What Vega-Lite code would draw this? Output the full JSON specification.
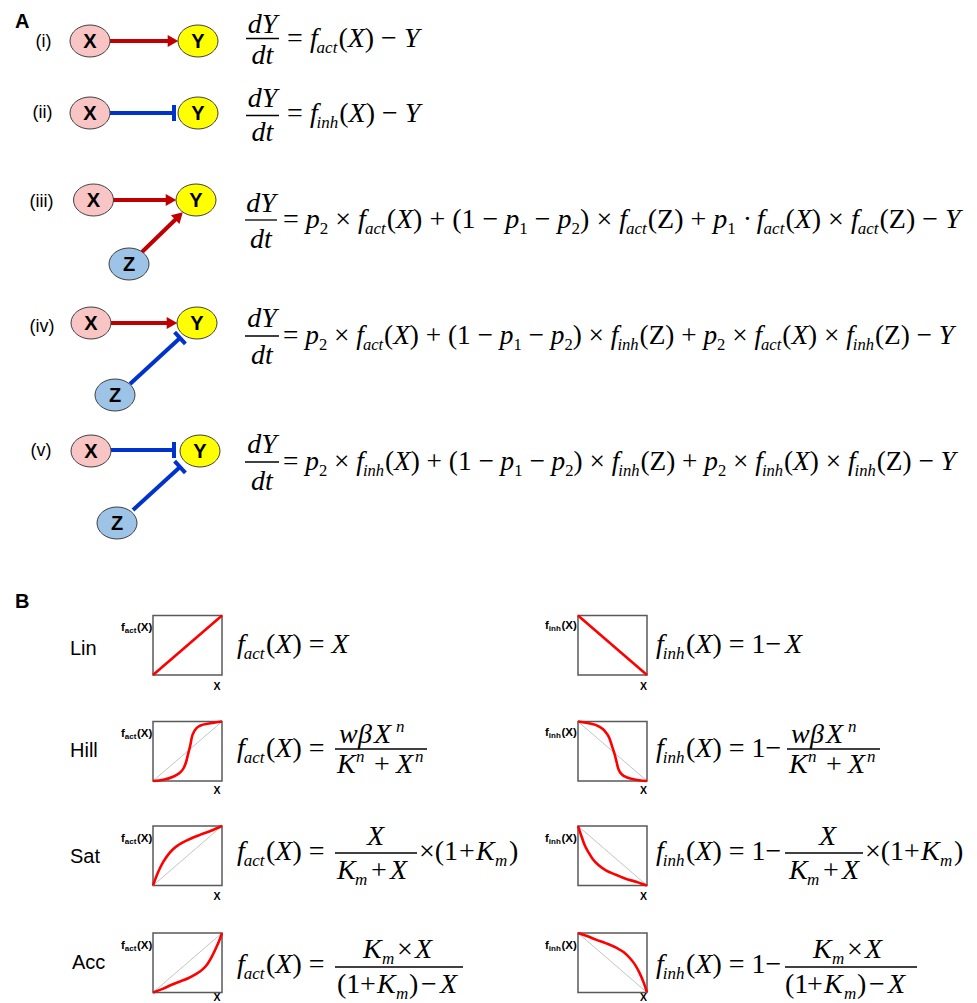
{
"$schema":"https://vega.github.io/schema/vega-lite/v6.json",
"width":977,"height":1003,"padding":0,"autosize":{"type":"none"},
"background":"white",
"config":{"view":{"stroke":null}},
"datasets":{
"nodes":[{"x":90,"y":41,"n":"X"},{"x":198,"y":41,"n":"Y"},{"x":90,"y":113,"n":"X"},{"x":198,"y":113,"n":"Y"},{"x":93.5,"y":200,"n":"X"},{"x":196,"y":200,"n":"Y"},{"x":129,"y":264,"n":"Z"},{"x":91,"y":323,"n":"X"},{"x":197,"y":323,"n":"Y"},{"x":115,"y":395,"n":"Z"},{"x":91,"y":451,"n":"X"},{"x":200,"y":451,"n":"Y"},{"x":117,"y":523,"n":"Z"}],
"edges":[
{"x":110,"y":41,"x2":168,"y2":41,"k":"act"},
{"x":110,"y":113,"x2":174,"y2":113,"k":"inh"},{"x":174,"y":105,"x2":174,"y2":121,"k":"inh"},
{"x":113,"y":200,"x2":166,"y2":200,"k":"act"},{"x":142,"y":252,"x2":176,"y2":219,"k":"act"},
{"x":111,"y":323,"x2":167,"y2":323,"k":"act"},{"x":130,"y":384,"x2":180,"y2":338,"k":"inh"},{"x":174.6,"y":332.1,"x2":185.4,"y2":343.9,"k":"inh"},
{"x":111,"y":450,"x2":174,"y2":450,"k":"inh"},{"x":174,"y":442,"x2":174,"y2":458,"k":"inh"},{"x":133,"y":510,"x2":180,"y2":467,"k":"inh"},{"x":174.6,"y":461.1,"x2":185.4,"y2":472.9,"k":"inh"}],
"heads":[{"x":173,"y":41,"a":90},{"x":171,"y":200,"a":90},{"x":179,"y":216,"a":46},{"x":172,"y":323,"a":90}],
"boxes":[{"x":153,"x2":222,"y":615.5,"y2":675},{"x":578,"x2":647,"y":615.5,"y2":675},{"x":153,"x2":222,"y":721.5,"y2":781},{"x":578,"x2":647,"y":721.5,"y2":781},{"x":153,"x2":222,"y":826,"y2":885.5},{"x":578,"x2":647,"y":826,"y2":885.5},{"x":153,"x2":222,"y":933,"y2":992.5},{"x":578,"x2":647,"y":933,"y2":992.5}],
"diag":[{"x":153,"y":781,"x2":222,"y2":721.5},{"x":578,"y":721.5,"x2":647,"y2":781},{"x":153,"y":885.5,"x2":222,"y2":826},{"x":578,"y":826,"x2":647,"y2":885.5},{"x":153,"y":992.5,"x2":222,"y2":933},{"x":578,"y":933,"x2":647,"y2":992.5}],
"curves":[
{"c":"L1","x":153,"y":675},{"c":"L1","x":222,"y":615.5},
{"c":"L2","x":578,"y":615.5},{"c":"L2","x":647,"y":675},
{"c":"H1","x":153,"y":781},{"c":"H1","x":163.4,"y":779.8},{"c":"H1","x":173,"y":776.8},{"c":"H1","x":179.2,"y":773.3},{"c":"H1","x":183.4,"y":768.5},{"c":"H1","x":186.1,"y":762},{"c":"H1","x":188.2,"y":753.6},{"c":"H1","x":190.3,"y":745.3},{"c":"H1","x":191.6,"y":738.2},{"c":"H1","x":195.1,"y":729.8},{"c":"H1","x":199.9,"y":725.7},{"c":"H1","x":210.3,"y":723.3},{"c":"H1","x":222,"y":721.5},
{"c":"H2","x":578,"y":721.5},{"c":"H2","x":589,"y":723.3},{"c":"H2","x":598.7,"y":726.3},{"c":"H2","x":604.2,"y":730.4},{"c":"H2","x":609.1,"y":737.6},{"c":"H2","x":611.8,"y":745.3},{"c":"H2","x":614.6,"y":754.2},{"c":"H2","x":616.6,"y":762},{"c":"H2","x":618,"y":767.9},{"c":"H2","x":620.8,"y":773.3},{"c":"H2","x":624.2,"y":776.2},{"c":"H2","x":633.2,"y":779.2},{"c":"H2","x":647,"y":781},
{"c":"S1","x":153,"y":885.5},{"c":"S1","x":156.5,"y":876},{"c":"S1","x":159.9,"y":868.3},{"c":"S1","x":163.4,"y":861.7},{"c":"S1","x":168.2,"y":854.6},{"c":"S1","x":173,"y":849.2},{"c":"S1","x":178.5,"y":845},{"c":"S1","x":183.4,"y":842.1},{"c":"S1","x":191,"y":838.5},{"c":"S1","x":199.9,"y":834.9},{"c":"S1","x":211,"y":830.8},{"c":"S1","x":222,"y":826},
{"c":"S2","x":578,"y":826},{"c":"S2","x":580.8,"y":834.3},{"c":"S2","x":584.2,"y":843.9},{"c":"S2","x":588.4,"y":852.2},{"c":"S2","x":592.5,"y":858.7},{"c":"S2","x":598.7,"y":865.3},{"c":"S2","x":606.3,"y":870.6},{"c":"S2","x":616,"y":874.8},{"c":"S2","x":626.3,"y":879},{"c":"S2","x":636.7,"y":881.9},{"c":"S2","x":647,"y":885.5},
{"c":"A1","x":153,"y":992.5},{"c":"A1","x":162.7,"y":988.9},{"c":"A1","x":171.6,"y":984.8},{"c":"A1","x":180.6,"y":981.2},{"c":"A1","x":188.2,"y":978.2},{"c":"A1","x":195.8,"y":974.1},{"c":"A1","x":202,"y":969.9},{"c":"A1","x":207.5,"y":963.9},{"c":"A1","x":211.7,"y":956.8},{"c":"A1","x":215.8,"y":948.5},{"c":"A1","x":219.2,"y":940.8},{"c":"A1","x":222,"y":933},
{"c":"A2","x":578,"y":933},{"c":"A2","x":587,"y":936},{"c":"A2","x":595.9,"y":939.6},{"c":"A2","x":605.6,"y":943.1},{"c":"A2","x":616.6,"y":947.9},{"c":"A2","x":623.5,"y":952},{"c":"A2","x":629.8,"y":958},{"c":"A2","x":635.3,"y":965.1},{"c":"A2","x":640.1,"y":974.1},{"c":"A2","x":643.6,"y":982.4},{"c":"A2","x":647,"y":992.5}],
"fbars":[{"x":246,"x2":279,"y":38.5,"y2":38.5},{"x":246,"x2":279,"y":115.5,"y2":115.5},{"x":245,"x2":277,"y":220,"y2":220},{"x":245,"x2":279,"y":336,"y2":336},{"x":245,"x2":279,"y":462,"y2":462},{"x":335,"x2":427,"y":749,"y2":749},{"x":787,"x2":880,"y":749,"y2":749},{"x":335,"x2":417,"y":853,"y2":853},{"x":785,"x2":863,"y":853,"y2":853},{"x":335,"x2":463,"y":967,"y2":967},{"x":785,"x2":917,"y":967,"y2":967}],
"eq":[
{"x":262.5,"y":33,"t":"dY","s":"ic"},{"x":262.5,"y":64,"t":"dt","s":"ic"},
{"x":287,"y":47,"t":"=","s":"u"},{"x":310,"y":47,"t":"f","s":"i"},{"x":316.6,"y":53,"t":"act","s":"sb"},{"x":338.4,"y":47,"t":"(","s":"u"},{"x":347.7,"y":47,"t":"X","s":"i"},{"x":364.8,"y":47,"t":")\u00a0\u2212","s":"u"},{"x":403.9,"y":47,"t":"Y","s":"i"},
{"x":262.5,"y":107,"t":"dY","s":"ic"},{"x":262.5,"y":141,"t":"dt","s":"ic"},
{"x":287,"y":122,"t":"=","s":"u"},{"x":310,"y":122,"t":"f","s":"i"},{"x":316.6,"y":128,"t":"inh","s":"sb"},{"x":339.3,"y":122,"t":"(","s":"u"},{"x":348.6,"y":122,"t":"X","s":"i"},{"x":365.7,"y":122,"t":")\u00a0\u2212","s":"u"},{"x":404.8,"y":122,"t":"Y","s":"i"},
{"x":261,"y":212,"t":"dY","s":"ic"},{"x":261,"y":248,"t":"dt","s":"ic"},
{"x":283,"y":228,"t":"=","s":"u"},{"x":305.8,"y":228,"t":"p","s":"i"},{"x":319.8,"y":234,"t":"2","s":"nm"},{"x":335.3,"y":228,"t":"\u00d7","s":"u"},{"x":358.1,"y":228,"t":"f","s":"i"},{"x":364.9,"y":234,"t":"act","s":"sb"},{"x":386.7,"y":228,"t":"(","s":"u"},{"x":396,"y":228,"t":"X","s":"i"},{"x":413.1,"y":228,"t":")\u00a0+\u00a0(1\u00a0\u2212","s":"u"},{"x":505.3,"y":228,"t":"p","s":"i"},{"x":519.3,"y":234,"t":"1","s":"nm"},{"x":534.8,"y":228,"t":"\u2212","s":"u"},{"x":557.6,"y":228,"t":"p","s":"i"},{"x":571.6,"y":234,"t":"2","s":"nm"},{"x":580.1,"y":228,"t":")\u00a0\u00d7","s":"u"},{"x":619.2,"y":228,"t":"f","s":"i"},{"x":626,"y":234,"t":"act","s":"sb"},{"x":647.8,"y":228,"t":"(Z)\u00a0+","s":"u"},{"x":713.3,"y":228,"t":"p","s":"i"},{"x":727.3,"y":234,"t":"1","s":"nm"},{"x":742.8,"y":228,"t":"\u00b7","s":"u"},{"x":756.8,"y":228,"t":"f","s":"i"},{"x":763.6,"y":234,"t":"act","s":"sb"},{"x":785.4,"y":228,"t":"(","s":"u"},{"x":794.7,"y":228,"t":"X","s":"i"},{"x":811.8,"y":228,"t":")\u00a0\u00d7","s":"u"},{"x":850.9,"y":228,"t":"f","s":"i"},{"x":857.7,"y":234,"t":"act","s":"sb"},{"x":879.5,"y":228,"t":"(Z)\u00a0\u2212","s":"u"},{"x":945,"y":228,"t":"Y","s":"i"},
{"x":262,"y":327,"t":"dY","s":"ic"},{"x":262,"y":364,"t":"dt","s":"ic"},
{"x":283,"y":344,"t":"=","s":"u2"},{"x":305.2,"y":344,"t":"p","s":"i2"},{"x":318.9,"y":350,"t":"2","s":"nm2"},{"x":334,"y":344,"t":"\u00d7","s":"u2"},{"x":356.2,"y":344,"t":"f","s":"i2"},{"x":362.9,"y":350,"t":"act","s":"sb2"},{"x":384.1,"y":344,"t":"(","s":"u2"},{"x":393.2,"y":344,"t":"X","s":"i2"},{"x":409.8,"y":344,"t":")\u00a0+\u00a0(1\u00a0\u2212","s":"u2"},{"x":499.7,"y":344,"t":"p","s":"i2"},{"x":513.4,"y":350,"t":"1","s":"nm2"},{"x":528.5,"y":344,"t":"\u2212","s":"u2"},{"x":550.7,"y":344,"t":"p","s":"i2"},{"x":564.4,"y":350,"t":"2","s":"nm2"},{"x":572.7,"y":344,"t":")\u00a0\u00d7","s":"u2"},{"x":610.8,"y":344,"t":"f","s":"i2"},{"x":617.4,"y":350,"t":"inh","s":"sb2"},{"x":639.6,"y":344,"t":"(Z)\u00a0+","s":"u2"},{"x":703.4,"y":344,"t":"p","s":"i2"},{"x":717.1,"y":350,"t":"2","s":"nm2"},{"x":732.2,"y":344,"t":"\u00d7","s":"u2"},{"x":754.4,"y":344,"t":"f","s":"i2"},{"x":761,"y":350,"t":"act","s":"sb2"},{"x":782.3,"y":344,"t":"(","s":"u2"},{"x":791.4,"y":344,"t":"X","s":"i2"},{"x":808,"y":344,"t":")\u00a0\u00d7","s":"u2"},{"x":846.2,"y":344,"t":"f","s":"i2"},{"x":852.8,"y":350,"t":"inh","s":"sb2"},{"x":874.9,"y":344,"t":"(Z)\u00a0\u2212","s":"u2"},{"x":938.8,"y":344,"t":"Y","s":"i2"},
{"x":262,"y":453,"t":"dY","s":"ic"},{"x":262,"y":490,"t":"dt","s":"ic"},
{"x":283,"y":470,"t":"=","s":"u2"},{"x":305.2,"y":470,"t":"p","s":"i2"},{"x":318.9,"y":476,"t":"2","s":"nm2"},{"x":334,"y":470,"t":"\u00d7","s":"u2"},{"x":356.2,"y":470,"t":"f","s":"i2"},{"x":362.9,"y":476,"t":"inh","s":"sb2"},{"x":385,"y":470,"t":"(","s":"u2"},{"x":394.1,"y":470,"t":"X","s":"i2"},{"x":410.7,"y":470,"t":")\u00a0+\u00a0(1\u00a0\u2212","s":"u2"},{"x":500.6,"y":470,"t":"p","s":"i2"},{"x":514.3,"y":476,"t":"1","s":"nm2"},{"x":529.4,"y":470,"t":"\u2212","s":"u2"},{"x":551.6,"y":470,"t":"p","s":"i2"},{"x":565.3,"y":476,"t":"2","s":"nm2"},{"x":573.6,"y":470,"t":")\u00a0\u00d7","s":"u2"},{"x":611.7,"y":470,"t":"f","s":"i2"},{"x":618.3,"y":476,"t":"inh","s":"sb2"},{"x":640.4,"y":470,"t":"(Z)\u00a0+","s":"u2"},{"x":704.3,"y":470,"t":"p","s":"i2"},{"x":718,"y":476,"t":"2","s":"nm2"},{"x":733.1,"y":470,"t":"\u00d7","s":"u2"},{"x":755.3,"y":470,"t":"f","s":"i2"},{"x":761.9,"y":476,"t":"inh","s":"sb2"},{"x":784,"y":470,"t":"(","s":"u2"},{"x":793.1,"y":470,"t":"X","s":"i2"},{"x":809.8,"y":470,"t":")\u00a0\u00d7","s":"u2"},{"x":847.9,"y":470,"t":"f","s":"i2"},{"x":854.6,"y":476,"t":"inh","s":"sb2"},{"x":876.7,"y":470,"t":"(Z)\u00a0\u2212","s":"u2"},{"x":940.5,"y":470,"t":"Y","s":"i2"},
{"x":237,"y":653,"t":"f","s":"i"},{"x":243.8,"y":659,"t":"act","s":"sb"},{"x":266,"y":653,"t":"(","s":"u"},{"x":275.3,"y":653,"t":"X","s":"i"},{"x":292.4,"y":653,"t":")\u00a0=","s":"u"},{"x":331.5,"y":653,"t":"X","s":"i"},
{"x":656,"y":653,"t":"f","s":"i"},{"x":662.8,"y":659,"t":"inh","s":"sb"},{"x":686,"y":653,"t":"(","s":"u"},{"x":695.3,"y":653,"t":"X","s":"i"},{"x":712.4,"y":653,"t":")\u00a0=\u00a01\u2212","s":"u"},{"x":785,"y":653,"t":"X","s":"i"},
{"x":237,"y":757,"t":"f","s":"i"},{"x":243.8,"y":763,"t":"act","s":"sb"},{"x":266,"y":757,"t":"(","s":"u"},{"x":275.3,"y":757,"t":"X","s":"i"},{"x":292.4,"y":757,"t":")\u00a0=","s":"u"},
{"x":339,"y":743,"t":"w","s":"i"},{"x":358,"y":743,"t":"\u03b2","s":"i"},{"x":374,"y":743,"t":"X","s":"i"},{"x":396,"y":732,"t":"n","s":"sb"},
{"x":337,"y":773,"t":"K","s":"i"},{"x":356,"y":762,"t":"n","s":"sb"},{"x":374,"y":773,"t":"+","s":"u"},{"x":396,"y":773,"t":"X","s":"i"},{"x":415,"y":762,"t":"n","s":"sb"},
{"x":656,"y":757,"t":"f","s":"i"},{"x":662.8,"y":763,"t":"inh","s":"sb"},{"x":686,"y":757,"t":"(","s":"u"},{"x":695.3,"y":757,"t":"X","s":"i"},{"x":712.4,"y":757,"t":")\u00a0=\u00a01\u2212","s":"u"},
{"x":791,"y":743,"t":"w","s":"i"},{"x":810,"y":743,"t":"\u03b2","s":"i"},{"x":826,"y":743,"t":"X","s":"i"},{"x":848,"y":732,"t":"n","s":"sb"},
{"x":789,"y":773,"t":"K","s":"i"},{"x":808,"y":762,"t":"n","s":"sb"},{"x":826,"y":773,"t":"+","s":"u"},{"x":848,"y":773,"t":"X","s":"i"},{"x":867,"y":762,"t":"n","s":"sb"},
{"x":237,"y":860,"t":"f","s":"i"},{"x":243.8,"y":866,"t":"act","s":"sb"},{"x":266,"y":860,"t":"(","s":"u"},{"x":275.3,"y":860,"t":"X","s":"i"},{"x":292.4,"y":860,"t":")\u00a0=","s":"u"},
{"x":367,"y":845,"t":"X","s":"i"},
{"x":337,"y":879,"t":"K","s":"i"},{"x":355,"y":885,"t":"m","s":"sb"},{"x":371,"y":879,"t":"+","s":"u"},{"x":390,"y":879,"t":"X","s":"i"},
{"x":419,"y":860,"t":"\u00d7(1","s":"u"},{"x":459,"y":860,"t":"+","s":"u"},{"x":476,"y":860,"t":"K","s":"i"},{"x":495,"y":866,"t":"m","s":"sb"},{"x":509,"y":860,"t":")","s":"u"},
{"x":656,"y":860,"t":"f","s":"i"},{"x":662.8,"y":866,"t":"inh","s":"sb"},{"x":686,"y":860,"t":"(","s":"u"},{"x":695.3,"y":860,"t":"X","s":"i"},{"x":712.4,"y":860,"t":")\u00a0=\u00a01\u2212","s":"u"},
{"x":819,"y":845,"t":"X","s":"i"},
{"x":789,"y":879,"t":"K","s":"i"},{"x":807,"y":885,"t":"m","s":"sb"},{"x":823,"y":879,"t":"+","s":"u"},{"x":842,"y":879,"t":"X","s":"i"},
{"x":865,"y":860,"t":"\u00d7(1","s":"u"},{"x":904,"y":860,"t":"+","s":"u"},{"x":921,"y":860,"t":"K","s":"i"},{"x":940,"y":866,"t":"m","s":"sb"},{"x":954,"y":860,"t":")","s":"u"},
{"x":237,"y":973,"t":"f","s":"i"},{"x":243.8,"y":979,"t":"act","s":"sb"},{"x":266,"y":973,"t":"(","s":"u"},{"x":275.3,"y":973,"t":"X","s":"i"},{"x":292.4,"y":973,"t":")\u00a0=","s":"u"},
{"x":363,"y":958,"t":"K","s":"i"},{"x":382,"y":964,"t":"m","s":"sb"},{"x":397,"y":958,"t":"\u00d7","s":"u"},{"x":415,"y":958,"t":"X","s":"i"},
{"x":337,"y":993,"t":"(1","s":"u"},{"x":360,"y":993,"t":"+","s":"u"},{"x":377,"y":993,"t":"K","s":"i"},{"x":396,"y":999,"t":"m","s":"sb"},{"x":409,"y":993,"t":")","s":"u"},{"x":421,"y":993,"t":"\u2212","s":"u"},{"x":440,"y":993,"t":"X","s":"i"},
{"x":656,"y":973,"t":"f","s":"i"},{"x":662.8,"y":979,"t":"inh","s":"sb"},{"x":686,"y":973,"t":"(","s":"u"},{"x":695.3,"y":973,"t":"X","s":"i"},{"x":712.4,"y":973,"t":")\u00a0=\u00a01\u2212","s":"u"},
{"x":813,"y":958,"t":"K","s":"i"},{"x":832,"y":964,"t":"m","s":"sb"},{"x":847,"y":958,"t":"\u00d7","s":"u"},{"x":865,"y":958,"t":"X","s":"i"},
{"x":785,"y":993,"t":"(1","s":"u"},{"x":807,"y":993,"t":"+","s":"u"},{"x":824,"y":993,"t":"K","s":"i"},{"x":844,"y":999,"t":"m","s":"sb"},{"x":857,"y":993,"t":")","s":"u"},{"x":869,"y":993,"t":"\u2212","s":"u"},{"x":888,"y":993,"t":"X","s":"i"}],
"lab":[
{"x":15,"y":28,"t":"A","s":"panel"},{"x":15,"y":608,"t":"B","s":"panel"},
{"x":43.5,"y":47,"t":"(i)","s":"row"},{"x":42.5,"y":118,"t":"(ii)","s":"row"},{"x":41.5,"y":207,"t":"(iii)","s":"row"},{"x":42,"y":332,"t":"(iv)","s":"row"},{"x":41,"y":456,"t":"(v)","s":"row"},
{"x":70,"y":655,"t":"Lin","s":"fn"},{"x":70,"y":757,"t":"Hill","s":"fn"},{"x":70,"y":863,"t":"Sat","s":"fn"},{"x":72,"y":969,"t":"Acc","s":"fn"},
{"x":121,"y":631,"t":"f","s":"ax"},{"x":124.8,"y":633,"t":"act","s":"axs"},{"x":137,"y":631,"t":"(X)","s":"ax"},
{"x":121,"y":737,"t":"f","s":"ax"},{"x":124.8,"y":739,"t":"act","s":"axs"},{"x":137,"y":737,"t":"(X)","s":"ax"},
{"x":121,"y":842,"t":"f","s":"ax"},{"x":124.8,"y":844,"t":"act","s":"axs"},{"x":137,"y":842,"t":"(X)","s":"ax"},
{"x":121,"y":949,"t":"f","s":"ax"},{"x":124.8,"y":951,"t":"act","s":"axs"},{"x":137,"y":949,"t":"(X)","s":"ax"},
{"x":545,"y":629,"t":"f","s":"ax"},{"x":548.8,"y":631,"t":"inh","s":"axs"},{"x":561.5,"y":629,"t":"(X)","s":"ax"},
{"x":545,"y":736,"t":"f","s":"ax"},{"x":548.8,"y":738,"t":"inh","s":"axs"},{"x":561.5,"y":736,"t":"(X)","s":"ax"},
{"x":545,"y":842,"t":"f","s":"ax"},{"x":548.8,"y":844,"t":"inh","s":"axs"},{"x":561.5,"y":842,"t":"(X)","s":"ax"},
{"x":545,"y":949,"t":"f","s":"ax"},{"x":548.8,"y":951,"t":"inh","s":"axs"},{"x":561.5,"y":949,"t":"(X)","s":"ax"},
{"x":217,"y":690,"t":"X","s":"xl"},{"x":217,"y":794,"t":"X","s":"xl"},{"x":217,"y":900,"t":"X","s":"xl"},{"x":217,"y":1001,"t":"X","s":"xl"},
{"x":643.5,"y":690,"t":"X","s":"xl"},{"x":643.5,"y":794,"t":"X","s":"xl"},{"x":643.5,"y":900,"t":"X","s":"xl"},{"x":643.5,"y":1001,"t":"X","s":"xl"}]
},
"encoding":{
"x":{"field":"x","type":"quantitative","scale":{"domain":[0,977],"nice":false,"zero":false},"axis":null},
"y":{"field":"y","type":"quantitative","scale":{"domain":[0,1003],"nice":false,"zero":false,"reverse":true},"axis":null}
},
"layer":[
{"data":{"name":"boxes"},"mark":{"type":"rect","fill":"white","stroke":"#595959","strokeWidth":1.5},"encoding":{"x2":{"field":"x2"},"y2":{"field":"y2"}}},
{"data":{"name":"diag"},"mark":{"type":"rule","color":"#c4c4c4","strokeWidth":1},"encoding":{"x2":{"field":"x2"},"y2":{"field":"y2"}}},
{"data":{"name":"curves"},"mark":{"type":"line","color":"#ff0000","strokeWidth":2.6,"interpolate":"monotone"},"encoding":{"detail":{"field":"c","type":"nominal"}}},
{"data":{"name":"edges"},"mark":{"type":"rule","strokeWidth":4},"encoding":{"x2":{"field":"x2"},"y2":{"field":"y2"},"color":{"field":"k","type":"nominal","scale":{"domain":["act","inh"],"range":["#c00000","#0033cc"]},"legend":null}}},
{"data":{"name":"nodes"},"mark":{"type":"point","shape":"M 1 0 C 1 0.4418 0.5523 0.8 0 0.8 C -0.5523 0.8 -1 0.4418 -1 0 C -1 -0.4418 -0.5523 -0.8 0 -0.8 C 0.5523 -0.8 1 -0.4418 1 0 Z","size":1600,"filled":true,"opacity":1,"stroke":"#404040","strokeWidth":1},"encoding":{"fill":{"field":"n","type":"nominal","scale":{"domain":["X","Y","Z"],"range":["#f8c4c4","#ffff00","#9dc3e6"]},"legend":null}}},
{"data":{"name":"nodes"},"mark":{"type":"text","font":"Liberation Sans","fontWeight":"bold","fontSize":20,"dy":7,"align":"center","baseline":"alphabetic","color":"black"},"encoding":{"text":{"field":"n"}}},
{"data":{"name":"heads"},"mark":{"type":"point","shape":"triangle-up","size":150,"filled":true,"opacity":1,"color":"#c00000"},"encoding":{"angle":{"field":"a","type":"quantitative","scale":null}}},
{"data":{"name":"fbars"},"mark":{"type":"rule","color":"black","strokeWidth":1.3},"encoding":{"x2":{"field":"x2"},"y2":{"field":"y2"}}},
{"data":{"name":"eq"},"transform":[{"filter":"datum.s==='i'"}],"mark":{"type":"text","font":"Liberation Serif","fontStyle":"italic","fontSize":28,"align":"left","baseline":"alphabetic","color":"black"},"encoding":{"text":{"field":"t"}}},
{"data":{"name":"eq"},"transform":[{"filter":"datum.s==='u'"}],"mark":{"type":"text","font":"Liberation Serif","fontSize":28,"align":"left","baseline":"alphabetic","color":"black"},"encoding":{"text":{"field":"t"}}},
{"data":{"name":"eq"},"transform":[{"filter":"datum.s==='i2'"}],"mark":{"type":"text","font":"Liberation Serif","fontStyle":"italic","fontSize":27.3,"align":"left","baseline":"alphabetic","color":"black"},"encoding":{"text":{"field":"t"}}},
{"data":{"name":"eq"},"transform":[{"filter":"datum.s==='u2'"}],"mark":{"type":"text","font":"Liberation Serif","fontSize":27.3,"align":"left","baseline":"alphabetic","color":"black"},"encoding":{"text":{"field":"t"}}},
{"data":{"name":"eq"},"transform":[{"filter":"datum.s==='ic'"}],"mark":{"type":"text","font":"Liberation Serif","fontStyle":"italic","fontSize":28,"align":"center","baseline":"alphabetic","color":"black"},"encoding":{"text":{"field":"t"}}},
{"data":{"name":"eq"},"transform":[{"filter":"datum.s==='sb'"}],"mark":{"type":"text","font":"Liberation Serif","fontStyle":"italic","fontSize":17,"align":"left","baseline":"alphabetic","color":"black"},"encoding":{"text":{"field":"t"}}},
{"data":{"name":"eq"},"transform":[{"filter":"datum.s==='nm'"}],"mark":{"type":"text","font":"Liberation Serif","fontSize":17,"align":"left","baseline":"alphabetic","color":"black"},"encoding":{"text":{"field":"t"}}},
{"data":{"name":"eq"},"transform":[{"filter":"datum.s==='sb2'"}],"mark":{"type":"text","font":"Liberation Serif","fontStyle":"italic","fontSize":16.6,"align":"left","baseline":"alphabetic","color":"black"},"encoding":{"text":{"field":"t"}}},
{"data":{"name":"eq"},"transform":[{"filter":"datum.s==='nm2'"}],"mark":{"type":"text","font":"Liberation Serif","fontSize":16.6,"align":"left","baseline":"alphabetic","color":"black"},"encoding":{"text":{"field":"t"}}},
{"data":{"name":"lab"},"transform":[{"filter":"datum.s==='panel'"}],"mark":{"type":"text","font":"Liberation Sans","fontWeight":"bold","fontSize":20,"align":"left","baseline":"alphabetic","color":"black"},"encoding":{"text":{"field":"t"}}},
{"data":{"name":"lab"},"transform":[{"filter":"datum.s==='row'"}],"mark":{"type":"text","font":"Liberation Sans","fontSize":18,"align":"center","baseline":"alphabetic","color":"black"},"encoding":{"text":{"field":"t"}}},
{"data":{"name":"lab"},"transform":[{"filter":"datum.s==='fn'"}],"mark":{"type":"text","font":"Liberation Sans","fontSize":20,"align":"left","baseline":"alphabetic","color":"black"},"encoding":{"text":{"field":"t"}}},
{"data":{"name":"lab"},"transform":[{"filter":"datum.s==='ax'"}],"mark":{"type":"text","font":"Liberation Sans","fontWeight":"bold","fontSize":11.5,"align":"left","baseline":"alphabetic","color":"black"},"encoding":{"text":{"field":"t"}}},
{"data":{"name":"lab"},"transform":[{"filter":"datum.s==='axs'"}],"mark":{"type":"text","font":"Liberation Sans","fontWeight":"bold","fontSize":8,"align":"left","baseline":"alphabetic","color":"black"},"encoding":{"text":{"field":"t"}}},
{"data":{"name":"lab"},"transform":[{"filter":"datum.s==='xl'"}],"mark":{"type":"text","font":"Liberation Sans","fontWeight":"bold","fontSize":10.5,"align":"center","baseline":"alphabetic","color":"black"},"encoding":{"text":{"field":"t"}}}
]
}
